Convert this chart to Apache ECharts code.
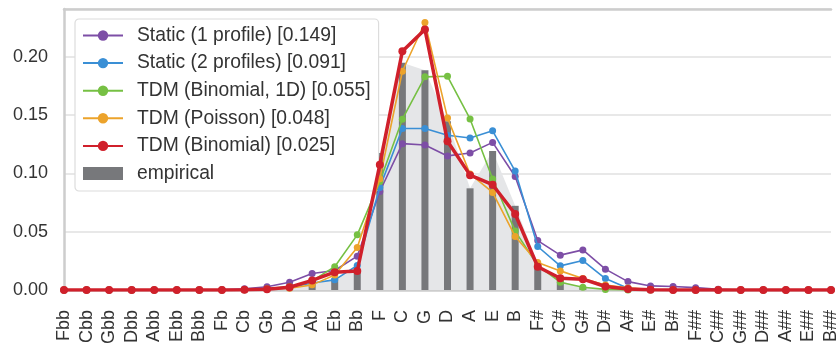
<!DOCTYPE html>
<html>
<head>
<meta charset="utf-8">
<script src="https://cdn.jsdelivr.net/npm/echarts@6/dist/echarts.min.js"></script>
<style>
html,body{margin:0;padding:0;background:#fff;}
#chart{width:840px;height:351px;}
</style>
</head>
<body>
<div id="chart"></div>
<script>
var categories = ["Fbb","Cbb","Gbb","Dbb","Abb","Ebb","Bbb","Fb","Cb","Gb","Db","Ab","Eb","Bb","F","C","G","D","A","E","B","F#","C#","G#","D#","A#","E#","B#","F##","C##","G##","D##","A##","E##","B##"];

var empirical = [0,0,0,0,0,0,0,0,0,0.0005,0.001,0.005,0.010,0.017,0.1175,0.195,0.1885,0.1447,0.0872,0.1192,0.0722,0.023,0.008,0.002,0.0005,0,0,0,0,0,0,0,0,0,0];
var static1 = [0,0,0,0,0,0,0,0.0002,0.001,0.0028,0.0066,0.0142,0.0167,0.029,0.0845,0.1255,0.1244,0.1150,0.1175,0.1266,0.0974,0.0424,0.0299,0.0344,0.0179,0.0072,0.0035,0.003,0.002,0.0007,0,0,0,0,0];
var static2 = [0,0,0,0,0,0,0,0,0.0003,0.0008,0.002,0.006,0.0087,0.021,0.088,0.1385,0.1385,0.1327,0.1304,0.1365,0.1020,0.0373,0.0207,0.0253,0.0098,0.0015,0.0004,0.0001,0,0,0,0,0,0,0];
var binom1d = [0,0,0,0,0,0,0,0,0.0003,0.001,0.003,0.0078,0.020,0.0473,0.093,0.1465,0.1828,0.1833,0.1467,0.0952,0.0505,0.021,0.0067,0.0024,0.0005,0.0001,0,0,0,0,0,0,0,0,0];
var poisson = [0,0,0,0,0,0,0,0,0.0002,0.0006,0.0015,0.0044,0.0128,0.0365,0.0954,0.1876,0.2294,0.1476,0.0995,0.0837,0.0459,0.0235,0.0164,0.0098,0.0042,0.0018,0.0004,0.0001,0,0,0,0,0,0,0];
var binomial = [0,0,0,0,0,0,0,0,0.0002,0.0006,0.0024,0.0082,0.0153,0.0163,0.1075,0.2048,0.2234,0.1275,0.0985,0.0903,0.0652,0.0199,0.0101,0.0093,0.003,0.0008,0.0002,0,0,0,0,0,0,0,0];

var seriesNames = ["Static (1 profile) [0.149]","Static (2 profiles) [0.091]","TDM (Binomial, 1D) [0.055]","TDM (Poisson) [0.048]","TDM (Binomial) [0.025]","empirical"];
var yTicks = [0, 0.05, 0.10, 0.15, 0.20];

var FONT = "'Liberation Sans', Arial, Helvetica, sans-serif";
var TXT = '#333333';

function lineSeries(name, data, color, width, size, z) {
  return {
    name: name, type: 'line', data: data, z: z,
    symbol: 'circle', symbolSize: size, showSymbol: true,
    lineStyle: {color: color, width: width},
    itemStyle: {color: color},
    emphasis: {disabled: true},
    animation: false
  };
}

var chart = echarts.init(document.getElementById('chart'));
chart.setOption({
  animation: false,
  backgroundColor: '#ffffff',
  textStyle: {fontFamily: FONT},
  grid: {left: 64, right: 0, top: 9, bottom: 61, containLabel: false},
  legend: {
    left: 75, top: 19, orient: 'vertical',
    backgroundColor: '#ffffff', borderColor: '#dcdcdc', borderWidth: 1.2, borderRadius: 4,
    padding: [7, 8, 8, 7],
    itemWidth: 40, itemHeight: 13, itemGap: 8.6,
    textStyle: {fontSize: 19.3, color: TXT, fontFamily: FONT, padding: [0,0,0,9]},
    data: [
      {name: seriesNames[0]}, {name: seriesNames[1]}, {name: seriesNames[2]},
      {name: seriesNames[3]}, {name: seriesNames[4]},
      {name: seriesNames[5], icon: 'rect'}
    ],
    selectedMode: false
  },
  xAxis: [{
    type: 'category', data: categories, boundaryGap: false,
    axisLine: {show: true, lineStyle: {color: '#cdcdcd', width: 2.5}},
    axisTick: {show: false},
    axisLabel: {rotate: 90, fontSize: 18, color: TXT, margin: 20, interval: 0, fontFamily: FONT},
    splitLine: {show: false}
  }, {
    type: 'category', data: categories, boundaryGap: false, position: 'top',
    axisLine: {show: true, lineStyle: {color: '#cdcdcd', width: 2.5}},
    axisTick: {show: false}, axisLabel: {show: false}, splitLine: {show: false}
  }],
  yAxis: {
    type: 'value', min: 0, max: 0.241, interval: 0.05,
    axisLine: {show: true, lineStyle: {color: '#cdcdcd', width: 2.5}},
    axisTick: {show: false},
    axisLabel: {
      fontSize: 18, color: TXT, margin: 16, fontFamily: FONT, showMaxLabel: false,
      formatter: function (v) {
        for (var i = 0; i < yTicks.length; i++) { if (Math.abs(v - yTicks[i]) < 1e-9) return yTicks[i].toFixed(2); }
        return '';
      }
    },
    splitLine: {show: true, lineStyle: {color: '#e0e0e0', width: 1.5}}
  },
  series: [
    {
      name: 'empirical_area', type: 'line', data: empirical, z: 1,
      symbol: 'none', lineStyle: {width: 0, opacity: 0},
      areaStyle: {color: '#e5e6e8', opacity: 1}, silent: true, animation: false
    },
    {
      name: seriesNames[5], type: 'bar', data: empirical, z: 2, barWidth: 7,
      itemStyle: {color: '#77787b'}, animation: false
    },
    lineSeries(seriesNames[0], static1, '#7d4ea6', 1.6, 7, 3),
    lineSeries(seriesNames[1], static2, '#3a8fd5', 1.6, 7, 4),
    lineSeries(seriesNames[2], binom1d, '#76c043', 1.6, 7, 5),
    lineSeries(seriesNames[3], poisson, '#eca32b', 1.6, 7, 6),
    lineSeries(seriesNames[4], binomial, '#d0202b', 3.5, 8, 7)
  ]
});
</script>
</body>
</html>
